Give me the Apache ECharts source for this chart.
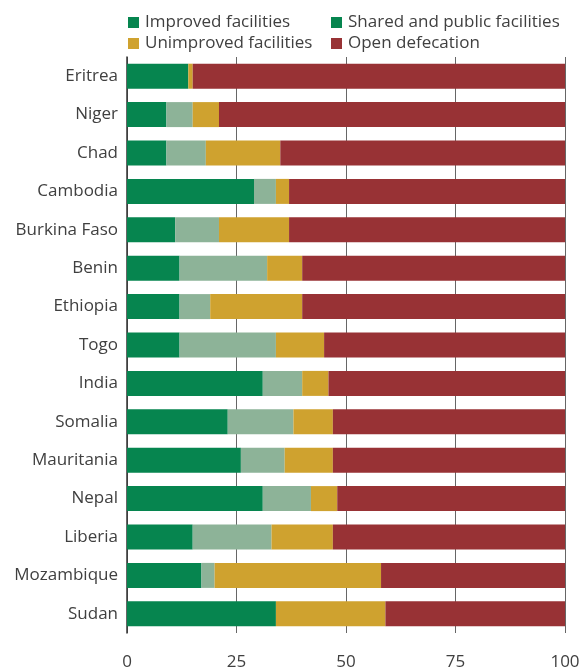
<!DOCTYPE html>
<html><head><meta charset="utf-8">
<script src="https://cdn.jsdelivr.net/npm/echarts@6/dist/echarts.min.js"></script>
<style>html,body{margin:0;padding:0;background:#fff}#c{width:582px;height:669px}</style>
</head><body><div id="c"></div>
<script>
var countries = ["Eritrea","Niger","Chad","Cambodia","Burkina Faso","Benin","Ethiopia","Togo","India","Somalia","Mauritania","Nepal","Liberia","Mozambique","Sudan"];
var improved   = [14, 9, 9, 29, 11, 12, 12, 12, 31, 23, 26, 31, 15, 17, 34];
var shared     = [0, 6, 9, 5, 10, 20, 7, 22, 9, 15, 10, 11, 18, 3, 0];
var unimproved = [1, 6, 17, 3, 16, 8, 21, 11, 6, 9, 11, 6, 14, 38, 25];
var openDef    = [85, 79, 65, 63, 63, 60, 60, 55, 54, 53, 53, 52, 53, 42, 41];
var xTicks = [0, 25, 50, 75, 100];

var FONT = 'Open Sans';
var TXT = '#404040';
var colors = {imp:'#06854f', sh:'#8db398', un:'#cfa22f', od:'#983235'};
function s(name, data, color){
  return {name:name, type:'bar', stack:'a', data:data, barWidth:25,
    itemStyle:{color:color}, emphasis:{disabled:true}};
}
function lg(left, top, item){
  return {left:left, top:top, padding:0, itemWidth:11, itemHeight:11, icon:'rect',
    textStyle:{fontFamily:FONT, fontSize:17, color:TXT, padding:[0,0,0,1]},
    data:[item]};
}
var chart = echarts.init(document.getElementById('c'), null, {renderer:'canvas'});
chart.setOption({
  animation:false,
  grid:{left:127, right:17, top:57, bottom:36, containLabel:false, outerBoundsMode:'none'},
  legend:[
    lg(128, 14, 'Improved facilities'),
    lg(128, 35, 'Unimproved facilities'),
    lg(331, 14, {name:'Shared and public facilities', itemStyle:{color:colors.imp}}),
    lg(331, 35, 'Open defecation')
  ],
  xAxis:{type:'value', min:0, max:100, interval:25,
    axisLine:{show:false}, axisTick:{show:false},
    splitLine:{show:true, lineStyle:{color:'#666', width:1}},
    axisLabel:{fontFamily:FONT, fontSize:17, color:TXT, margin:21,
      formatter:function(v){return xTicks.indexOf(v)>=0?String(v):'';}}
  },
  yAxis:{type:'category', inverse:true, data:countries,
    axisLine:{show:true, lineStyle:{color:'#333', width:1.5}}, axisTick:{show:false},
    axisLabel:{fontFamily:FONT, fontSize:17, color:TXT, margin:9}
  },
  series:[
    s('Improved facilities', improved, colors.imp),
    s('Shared and public facilities', shared, colors.sh),
    s('Unimproved facilities', unimproved, colors.un),
    s('Open defecation', openDef, colors.od)
  ]
});
</script></body></html>
